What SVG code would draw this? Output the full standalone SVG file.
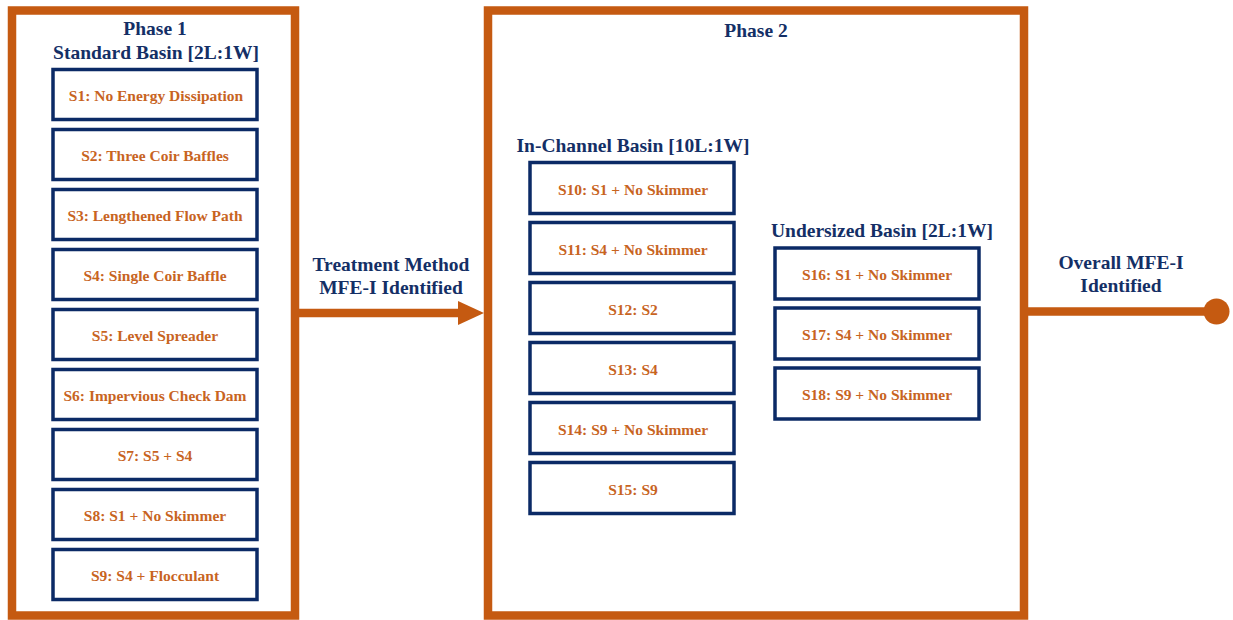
<svg xmlns="http://www.w3.org/2000/svg" width="1233" height="620" viewBox="0 0 1233 620">
<style>
.phase{fill:#ffffff;stroke:#C55A11;stroke-width:8.5}
.box{fill:#ffffff;stroke:#0B2A66;stroke-width:3.5}
.hdr{font-family:"Liberation Serif","Times New Roman",serif;font-weight:bold;font-size:19.5px;fill:#142F66;text-anchor:middle}
.lbl{font-family:"Liberation Serif","Times New Roman",serif;font-weight:bold;font-size:15.5px;fill:#C8641F;text-anchor:middle}
.conn{stroke:#C55A11;stroke-width:8.5;fill:none}
</style>
<rect width="1233" height="620" fill="#ffffff"/>
<g id="phase1">
<rect class="phase" x="12" y="10.5" width="283" height="605"/>
<text class="hdr" x="155" y="35">Phase 1</text>
<text class="hdr" x="156" y="59">Standard Basin [2L:1W]</text>
</g>
<g id="phase2">
<rect class="phase" x="488" y="10.5" width="536" height="605"/>
<text class="hdr" x="756" y="37">Phase 2</text>
<text class="hdr" x="633" y="152">In-Channel Basin [10L:1W]</text>
<text class="hdr" x="882" y="237">Undersized Basin [2L:1W]</text>
</g>
<g id="s1"><rect class="box" x="53" y="69.5" width="204" height="50"/><text class="lbl" x="156" y="101">S1: No Energy Dissipation</text></g>
<g id="s2"><rect class="box" x="53" y="129.5" width="204" height="50"/><text class="lbl" x="155" y="161">S2: Three Coir Baffles</text></g>
<g id="s3"><rect class="box" x="53" y="189.5" width="204" height="50"/><text class="lbl" x="155" y="221">S3: Lengthened Flow Path</text></g>
<g id="s4"><rect class="box" x="53" y="249.5" width="204" height="50"/><text class="lbl" x="155" y="281">S4: Single Coir Baffle</text></g>
<g id="s5"><rect class="box" x="53" y="309.5" width="204" height="50"/><text class="lbl" x="155" y="341">S5: Level Spreader</text></g>
<g id="s6"><rect class="box" x="53" y="369.5" width="204" height="50"/><text class="lbl" x="155" y="401">S6: Impervious Check Dam</text></g>
<g id="s7"><rect class="box" x="53" y="429.5" width="204" height="50"/><text class="lbl" x="155" y="461">S7: S5 + S4</text></g>
<g id="s8"><rect class="box" x="53" y="489.5" width="204" height="50"/><text class="lbl" x="155" y="521">S8: S1 + No Skimmer</text></g>
<g id="s9"><rect class="box" x="53" y="549.5" width="204" height="50"/><text class="lbl" x="155" y="581">S9: S4 + Flocculant</text></g>
<g id="s10"><rect class="box" x="530" y="162.5" width="204" height="51"/><text class="lbl" x="633" y="194.5">S10: S1 + No Skimmer</text></g>
<g id="s11"><rect class="box" x="530" y="222.5" width="204" height="51"/><text class="lbl" x="633" y="254.5">S11: S4 + No Skimmer</text></g>
<g id="s12"><rect class="box" x="530" y="282.5" width="204" height="51"/><text class="lbl" x="633" y="314.5">S12: S2</text></g>
<g id="s13"><rect class="box" x="530" y="342.5" width="204" height="51"/><text class="lbl" x="633" y="374.5">S13: S4</text></g>
<g id="s14"><rect class="box" x="530" y="402.5" width="204" height="51"/><text class="lbl" x="633" y="434.5">S14: S9 + No Skimmer</text></g>
<g id="s15"><rect class="box" x="530" y="462.5" width="204" height="51"/><text class="lbl" x="633" y="494.5">S15: S9</text></g>
<g id="s16"><rect class="box" x="775" y="248" width="204" height="51"/><text class="lbl" x="877" y="280">S16: S1 + No Skimmer</text></g>
<g id="s17"><rect class="box" x="775" y="308" width="204" height="51"/><text class="lbl" x="877" y="340">S17: S4 + No Skimmer</text></g>
<g id="s18"><rect class="box" x="775" y="368" width="204" height="51"/><text class="lbl" x="877" y="400">S18: S9 + No Skimmer</text></g>
<g id="connectors">
<line class="conn" x1="299" y1="313" x2="460" y2="313"/>
<polygon points="458,301 484,313 458,325" fill="#C55A11"/>
<text class="hdr" x="391" y="271">Treatment Method</text>
<text class="hdr" x="391" y="294">MFE-I Identified</text>
<line class="conn" x1="1028" y1="311.5" x2="1210" y2="311.5"/>
<circle cx="1216.5" cy="311.5" r="13" fill="#C55A11"/>
<text class="hdr" x="1121" y="269">Overall MFE-I</text>
<text class="hdr" x="1121" y="292">Identified</text>
</g>
</svg>
